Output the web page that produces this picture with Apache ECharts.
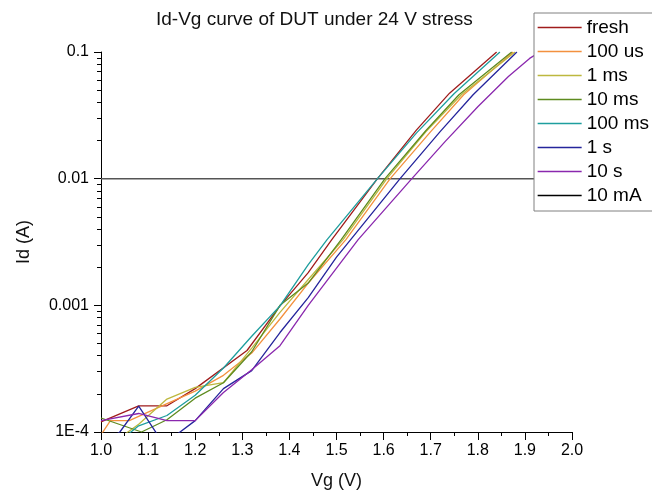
<!DOCTYPE html>
<html>
<head>
<meta charset="utf-8">
<script src="https://cdn.jsdelivr.net/npm/echarts@6/dist/echarts.min.js"></script>
<style>
html,body{margin:0;padding:0;background:#fff;}
#chart{width:652px;height:497px;}
</style>
</head>
<body>
<div id="chart"></div>
<script>
// ---- data (Vg in V, Id in A) ----
const seriesNames = ['fresh', '100 us', '1 ms', '10 ms', '100 ms', '1 s', '10 s', '10 mA'];

const vgFresh = [1.00, 1.08, 1.14, 1.20, 1.31, 1.38, 1.44, 1.49, 1.587, 1.67, 1.74, 1.84];
const idFresh = [1.2e-4, 1.61e-4, 1.61e-4, 2.2e-4, 4.4e-4, 9.9e-4, 1.81e-3, 3.3e-3, 1.0e-2, 2.43e-2, 4.73e-2, 1.0e-1];

const vg100us = [1.00, 1.02, 1.06, 1.12, 1.20, 1.26, 1.32, 1.38, 1.44, 1.52, 1.614, 1.70, 1.77, 1.875];
const id100us = [9.5e-5, 1.23e-4, 1.23e-4, 1.55e-4, 2.1e-4, 2.8e-4, 4.2e-4, 7.8e-4, 1.5e-3, 3.3e-3, 1.0e-2, 2.35e-2, 4.6e-2, 1.0e-1];

const vg1ms = [1.00, 1.04, 1.08, 1.14, 1.20, 1.26, 1.32, 1.38, 1.44, 1.514, 1.607, 1.69, 1.765, 1.879];
const id1ms = [9.0e-5, 9.0e-5, 1.15e-4, 1.82e-4, 2.25e-4, 2.45e-4, 4.6e-4, 8.8e-4, 1.6e-3, 3.3e-3, 1.0e-2, 2.35e-2, 4.6e-2, 1.0e-1];

const vg10ms = [1.00, 1.086, 1.14, 1.20, 1.26, 1.32, 1.38, 1.44, 1.51, 1.603, 1.69, 1.76, 1.872];
const id10ms = [1.29e-4, 1.0e-4, 1.25e-4, 1.85e-4, 2.45e-4, 4.3e-4, 1.0e-3, 1.5e-3, 3.3e-3, 1.0e-2, 2.4e-2, 4.6e-2, 1.0e-1];

const vg100ms = [1.00, 1.04, 1.08, 1.14, 1.20, 1.26, 1.32, 1.38, 1.44, 1.48, 1.587, 1.67, 1.75, 1.847];
const id100ms = [8.5e-5, 8.5e-5, 1.12e-4, 1.35e-4, 1.95e-4, 3.2e-4, 5.7e-4, 9.9e-4, 2.1e-3, 3.3e-3, 1.0e-2, 2.3e-2, 4.7e-2, 1.0e-1];

const vg1s = [1.00, 1.04, 1.08, 1.12, 1.16, 1.20, 1.26, 1.32, 1.38, 1.44, 1.50, 1.635, 1.72, 1.79, 1.883];
const id1s = [8.0e-5, 1.0e-4, 1.6e-4, 9.5e-5, 9.5e-5, 1.23e-4, 2.2e-4, 3.05e-4, 6.1e-4, 1.15e-3, 2.4e-3, 1.0e-2, 2.35e-2, 4.6e-2, 1.0e-1];

const vg10s = [1.00, 1.08, 1.14, 1.20, 1.26, 1.32, 1.38, 1.44, 1.546, 1.66, 1.73, 1.80, 1.865, 1.91, 1.95];
const id10s = [1.23e-4, 1.4e-4, 1.23e-4, 1.23e-4, 2.05e-4, 3.1e-4, 4.8e-4, 1.0e-3, 3.3e-3, 1.0e-2, 1.95e-2, 3.7e-2, 6.4e-2, 8.9e-2, 1.1e-1];

const vg10mA = [1.0, 2.0];
const id10mA = [0.01, 0.01];

const yTickLabels = {'0.1': '0.1', '0.01': '0.01', '0.001': '0.001', '0.0001': '1E-4'};

// ---- styling ----
const colors = ['#A01C1C', '#F3913E', '#BDB83E', '#5E8B1F', '#1E9E9E', '#25259C', '#8A28AE', '#000000'];
const vgs = [vgFresh, vg100us, vg1ms, vg10ms, vg100ms, vg1s, vg10s, vg10mA];
const ids = [idFresh, id100us, id1ms, id10ms, id100ms, id1s, id10s, id10mA];

function pairs(v, i) { return v.map((x, k) => [x, i[k]]); }

// minor ticks of the log axis at 2..9 x 10^d, expressed as log10 values
const minorYLog = [];
for (let d = -4; d <= -2; d++) {
  for (let m = 2; m <= 9; m++) minorYLog.push(Math.log10(m) + d);
}

const series = seriesNames.map((name, k) => ({
  name: name,
  type: 'line',
  data: pairs(vgs[k], ids[k]),
  symbol: 'none',
  clip: true,
  z: k === 7 ? 1 : 2,
  lineStyle: { width: k === 7 ? 1.5 : 1.3, color: k === 7 ? '#555555' : colors[k] },
  itemStyle: { color: colors[k] },
  emphasis: { disabled: true }
}));

const chart = echarts.init(document.getElementById('chart'), null, { renderer: 'canvas' });
const fontFam = '"Liberation Sans", Arial, sans-serif';

chart.setOption({
  animation: false,
  backgroundColor: '#ffffff',
  title: {
    text: 'Id-Vg curve of DUT under 24 V stress',
    left: 151, top: 5,
    textStyle: { fontFamily: fontFam, fontSize: 19, fontWeight: 'normal', color: '#111' }
  },
  legend: {
    orient: 'vertical',
    left: 534, top: 13,
    padding: [5, 40, 6, 3],
    itemGap: 5,
    itemWidth: 44, itemHeight: 14,
    backgroundColor: '#ffffff',
    borderColor: '#808080', borderWidth: 1,
    textStyle: { fontFamily: fontFam, fontSize: 19, color: '#000' },
    data: seriesNames.map((n, k) => ({
      name: n,
      itemStyle: { color: colors[k], opacity: 0 },
      lineStyle: { color: colors[k], width: 1.3, opacity: 1 }
    })),
    z: 10
  },
  grid: { left: 101, top: 52, width: 471, height: 380 },
  xAxis: {
    type: 'value', min: 1.0, max: 2.0, interval: 0.1,
    name: 'Vg (V)', nameLocation: 'middle', nameGap: 40,
    nameTextStyle: { fontFamily: fontFam, fontSize: 18, color: '#111' },
    axisLine: { lineStyle: { color: '#000', width: 1 } },
    axisTick: { inside: false, length: 8, lineStyle: { color: '#000' } },
    minorTick: { show: true, splitNumber: 2, length: 4, lineStyle: { color: '#000' } },
    splitLine: { show: false },
    axisLabel: { fontFamily: fontFam, fontSize: 16, color: '#000', margin: 11,
      formatter: v => v.toFixed(1) }
  },
  yAxis: [{
    type: 'log', min: 1e-4, max: 0.1, logBase: 10,
    name: 'Id (A)', nameLocation: 'middle', nameGap: 68, nameRotate: 90,
    nameTextStyle: { fontFamily: fontFam, fontSize: 18, color: '#111' },
    axisLine: { show: true, lineStyle: { color: '#000', width: 1 } },
    axisTick: { inside: false, length: 7, lineStyle: { color: '#000' } },
    minorTick: { show: false },
    splitLine: { show: false },
    axisLabel: { fontFamily: fontFam, fontSize: 16, color: '#000', margin: 12,
      formatter: v => { const key = String(+v.toPrecision(3)); return yTickLabels[key] || ''; } }
  }, {
    type: 'value', min: -4, max: -1, position: 'left',
    axisLine: { show: false },
    axisTick: { show: true, inside: false, length: 4, customValues: minorYLog, lineStyle: { color: '#000' } },
    axisLabel: { show: false },
    splitLine: { show: false }
  }],
  series: series
});
</script>
</body>
</html>
